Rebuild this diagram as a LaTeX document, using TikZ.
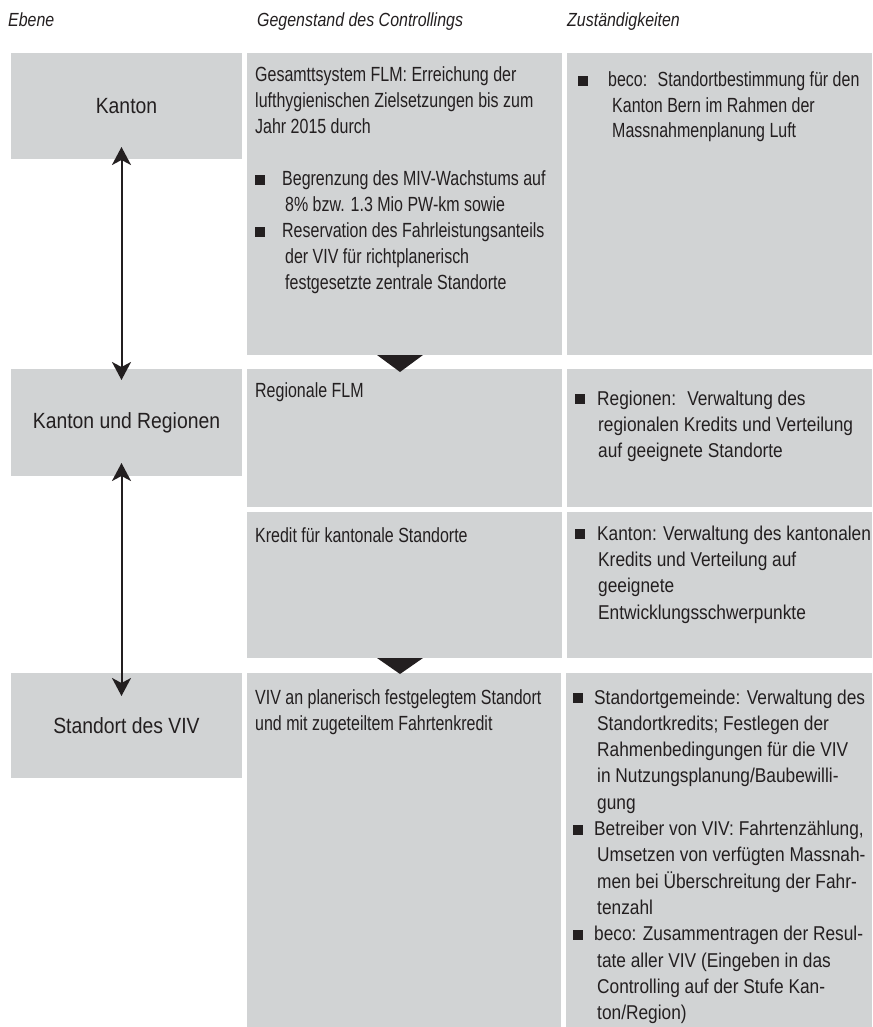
\documentclass[tikz,border=0pt]{standalone}
\usepackage{fontspec}
\setmainfont{Liberation Sans}
\newfontfamily\headfont{Liberation Sans}[FakeStretch=0.84]
\newfontfamily\leftfont{Liberation Sans}[FakeStretch=0.88]
\newfontfamily\midfont{Liberation Sans}[FakeStretch=0.78]
\newfontfamily\respfont{Liberation Sans}[FakeStretch=0.865]
\usetikzlibrary{arrows.meta}

\definecolor{boxgray}{RGB}{209,211,212}
\definecolor{textblack}{RGB}{35,31,32}

% square bullet with hanging indent
\newcommand{\sqbul}[2]{\par\hangindent=#2\hangafter=1\noindent
  \makebox[#1][l]{\rule[1pt]{10pt}{10pt}}}

\begin{document}
\begin{tikzpicture}[x=1pt, y=-1pt, text=textblack]
        \tikzstyle{cell} = [fill=boxgray, inner sep=0pt, outer sep=0pt, anchor=north west]
        \tikzstyle{level} = [cell, minimum width=231pt, align=center, font=\leftfont\fontsize{22}{26}\selectfont]
        \tikzstyle{head} = [anchor=base west, inner sep=0pt, font=\headfont\itshape\fontsize{19}{22}\selectfont]
        \tikzstyle{blocktext} = [anchor=base west, inner sep=0pt]
        \tikzstyle{updown} = [textblack, line width=2pt, {Stealth[length=18pt,width=19pt,inset=5pt]}-{Stealth[length=18pt,width=19pt,inset=5pt]}]
        \useasboundingbox (0,0) rectangle (872,1027);

        % column titles
        \node[head](hEbene) at (8,27){Ebene};
        \node[head](hGegenstand) at (257,27){Gegenstand des Controllings};
        \node[head](hZust) at (567,27){Zuständigkeiten};

        % Ebene
        \node[level, minimum height=106pt](kanton) at (11,53){Kanton};
        \node[level, minimum height=107pt](kur) at (11,369){Kanton und Regionen};
        \node[level, minimum height=105pt](standort) at (11,673){Standort des VIV};

        % Gegenstand des Controllings
        \node[cell, minimum width=315pt, minimum height=302pt](midA) at (247,53){};
        \node[cell, minimum width=315pt, minimum height=138pt](midB) at (247,369){};
        \node[cell, minimum width=315pt, minimum height=146pt](midC) at (247,512){};
        \node[cell, minimum width=314pt, minimum height=354pt](midD) at (247,673){};

        % Zustaendigkeiten
        \node[cell, minimum width=305pt, minimum height=302pt](respA) at (567,53){};
        \node[cell, minimum width=305pt, minimum height=138pt](respB) at (567,369){};
        \node[cell, minimum width=305pt, minimum height=146pt](respC) at (567,512){};
        \node[cell, minimum width=306pt, minimum height=354pt](respD) at (566,673){};

        \fill[textblack] (377,355) -- (423,355) -- (400,372) -- cycle;
        \fill[textblack] (377,658) -- (423,658) -- (400,674) -- cycle;

        \draw[updown] ([xshift=-5pt, yshift=12pt]kanton.south) -- ([xshift=-5pt, yshift=-11pt]kur.north);
        \draw[updown] ([xshift=-5pt, yshift=13pt]kur.south) -- ([xshift=-5pt, yshift=-23pt]standort.north);

        \node[blocktext](midAtext) at (255,82){\parbox[t]{330pt}{\midfont\fontsize{20.5}{26}\selectfont
            \noindent Gesamttsystem FLM: Erreichung der\\ lufthygienischen Zielsetzungen bis zum\\ Jahr 2015 durch\par
            \vskip 26pt
            \sqbul{27pt}{30pt}Begrenzung des MIV-Wachstums auf\\ 8\% bzw. 1.3 Mio PW-km sowie
            \sqbul{27pt}{30pt}Reservation des Fahrleistungsanteils\\ der VIV für richtplanerisch\\ festgesetzte zentrale Standorte}};
        \node[blocktext, font=\midfont\fontsize{20.5}{26}\selectfont](midBtext) at (255,397){Regionale FLM};
        \node[blocktext, font=\midfont\fontsize{20.5}{26}\selectfont](midCtext) at (255,542){Kredit für kantonale Standorte};
        \node[blocktext](midDtext) at (255,704){\parbox[t]{330pt}{\midfont\fontsize{20.5}{26}\selectfont
            \noindent VIV an planerisch festgelegtem Standort\\ und mit zugeteiltem Fahrtenkredit}};

        \node[blocktext](respAtext) at (578,87){\parbox[t]{330pt}{\midfont\fontsize{20.5}{25.5}\selectfont
            \sqbul{30pt}{34pt}beco:~ Standortbestimmung für den\\ Kanton Bern im Rahmen der\\ Massnahmenplanung Luft}};
        \node[blocktext](respBtext) at (575,405){\parbox[t]{330pt}{\respfont\fontsize{20}{26.4}\selectfont
            \sqbul{22pt}{23pt}Regionen:~ Verwaltung des\\ regionalen Kredits und Verteilung\\ auf geeignete Standorte}};
        \node[blocktext](respCtext) at (575,540){\parbox[t]{330pt}{\respfont\fontsize{20}{26.4}\selectfont
            \sqbul{22pt}{23pt}Kanton: Verwaltung des kantonalen\\ Kredits und Verteilung auf\\ geeignete\\ Entwicklungsschwerpunkte}};
        \node[blocktext](respDtext) at (573,704){\parbox[t]{330pt}{\respfont\fontsize{20}{26.3}\selectfont
            \sqbul{21pt}{24pt}Standortgemeinde: Verwaltung des\\ Standortkredits; Festlegen der\\ Rahmenbedingungen für die VIV\\ in Nutzungsplanung/Baubewilli-\\ gung
            \sqbul{21pt}{24pt}Betreiber von VIV: Fahrtenzählung,\\ Umsetzen von verfügten Massnah-\\ men bei Überschreitung der Fahr-\\ tenzahl
            \sqbul{21pt}{24pt}beco: Zusammentragen der Resul-\\ tate aller VIV (Eingeben in das\\ Controlling auf der Stufe Kan-\\ ton/Region)}};
\end{tikzpicture}
\end{document}
